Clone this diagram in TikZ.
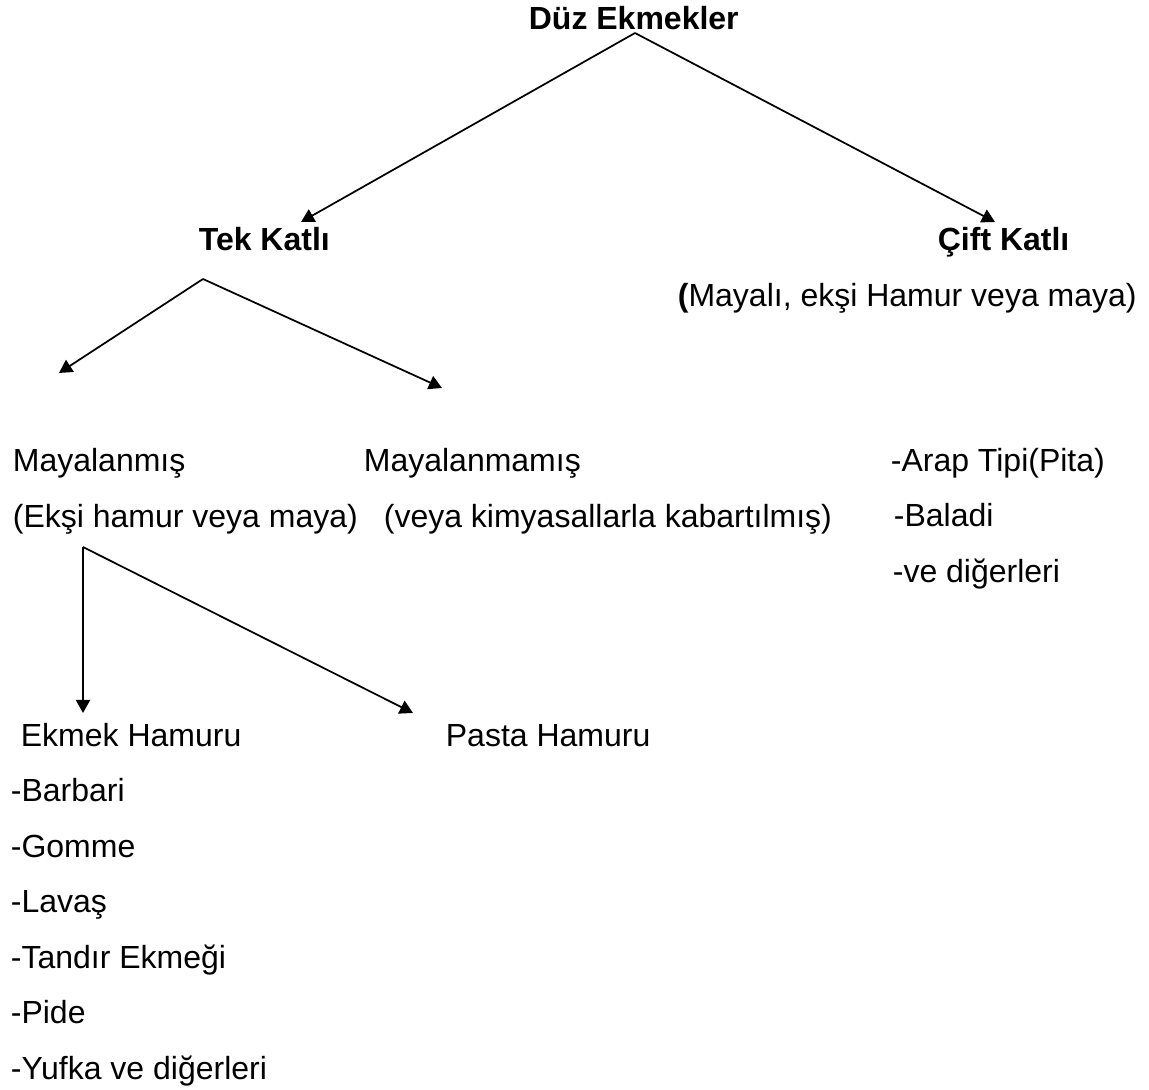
\documentclass[tikz,border=0pt]{standalone}
\usepackage{fontspec}
\setmainfont{Liberation Sans}
\usetikzlibrary{arrows.meta,positioning}

\begin{document}
\begin{tikzpicture}[x=0.375pt,y=-0.375pt,>={Triangle[width=5.3pt,length=4.9pt]},
    line width=0.65pt,node distance=20.8pt,
    every node/.style={inner sep=0pt,anchor=base west,font=\fontsize{12}{14.4}\selectfont}]
    \tikzstyle{head}=[font=\fontsize{12}{14.4}\selectfont\bfseries]
    \useasboundingbox (0,0) rectangle (1149,1090);

    % top level
    \node[head] (duz)  at (528,30)  {Düz Ekmekler};
    \node[head] (tek)  at (198,251) {Tek Katlı};
    \node[head] (cift) at (937,251) {Çift Katlı};
    \node       (mayali) at (677,307) {\textbf{(}Mayalı, ekşi Hamur veya maya)};

    % second level
    \node (mayalanmis)   at (12,472)  {Mayalanmış};
    \node (eksi)         at (12,528)  {(Ekşi hamur veya maya)};
    \node (mayalanmamis) at (363,472) {Mayalanmamış};
    \node (kimya)        at (383,528) {(veya kimyasallarla kabartılmış)};
    \node (arap)         at (890,472) {-Arap Tipi(Pita)};
    \node (baladi)       at (893,527) {-Baladi};
    \node (diger)        at (892,583) {-ve diğerleri};

    % third level
    \node (ekmek) at (20,747)  {Ekmek Hamuru};
    \node (pasta) at (445,747) {Pasta Hamuru};
    \node (barbari) at (10,802) {-Barbari};
    \node (gomme)   [below=of barbari.base west,anchor=base west] {-Gomme};
    \node (lavas)   [below=of gomme.base west,anchor=base west]   {-Lavaş};
    \node (tandir)  [below=of lavas.base west,anchor=base west]   {-Tandır Ekmeği};
    \node (pide)    [below=of tandir.base west,anchor=base west]  {-Pide};
    \node (yufka)   [below=of pide.base west,anchor=base west]    {-Yufka ve diğerleri};

    \coordinate (duzv)  at (635,33);
    \coordinate (tekv)  at (203,279);
    \coordinate (eksiv) at (83,547);
    \coordinate (tekin)   at (301,222);
    \coordinate (ciftin)  at (995,222);
    \coordinate (mayain)  at (59,373);
    \coordinate (mamisin) at (442,388);
    \coordinate (ekmekin) at (83,713);
    \coordinate (pastain) at (413,713);

    \draw[->] (duzv) -- (tekin);
    \draw[->] (duzv) -- (ciftin);
    \draw[->] (tekv) -- (mayain);
    \draw[->] (tekv) -- (mamisin);
    \draw[->] (eksiv) -- (ekmekin);
    \draw[->] (eksiv) -- (pastain);
\end{tikzpicture}
\end{document}
